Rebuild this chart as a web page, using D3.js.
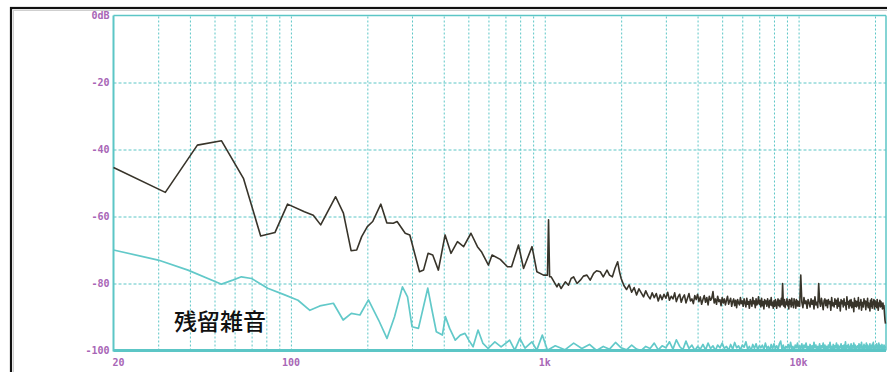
<!DOCTYPE html>
<html>
<head>
<meta charset="utf-8">
<script src="https://cdn.jsdelivr.net/npm/d3@7"></script>
<style>
  html, body { margin: 0; padding: 0; background: #ffffff; }
  svg { display: block; }
</style>
</head>
<body>
<svg id="chart" width="887" height="372"></svg>
<script>
// ---- Data -------------------------------------------------------------
// Output spectrum (dark trace), low-frequency section: frequency (Hz) and level (dB)
const outFreq = [20, 32, 42.8, 53.3, 65, 76, 86.5, 97, 113, 122.5, 131, 150, 161, 172.6, 181.6, 190,
  200, 210, 226, 238.6, 253, 262, 282, 294, 321, 333, 347, 362, 381, 405, 427, 453, 479, 512, 543,
  563, 600, 620, 668, 713, 740, 788, 825, 891, 931, 989, 1025, 1035, 1045, 1060, 1117, 1134, 1160,
  1205, 1240, 1270, 1299, 1340, 1381, 1420, 1466, 1510, 1558, 1600, 1655, 1700, 1759, 1800, 1847,
  1890, 1937, 1970];
const outDb = [-45.4, -52.8, -38.7, -37.4, -48.6, -65.8, -64.8, -56.3, -58.6, -59.6, -62.5, -54.1, -59,
  -70.2, -70, -66, -63, -61.5, -56.3, -61.9, -62, -61.5, -65, -65.5, -76.5, -76, -71, -71.5, -76, -65.5,
  -71, -67.5, -69, -65, -69, -70.5, -74.5, -71.5, -72.8, -75, -75, -68.5, -75.5, -69, -76.5, -77.5,
  -77.5, -61, -78, -78, -81, -80, -81.5, -79.5, -80.5, -78.5, -78, -80, -79, -77.8, -77.5, -79, -77,
  -76.2, -76.5, -78, -76, -77.5, -78, -75.5, -73.5, -76.5];

// Output spectrum, FFT bins 2 kHz – 9.95 kHz (50 Hz spacing)
const outMidStartHz = 2000;
const outMidStepHz = 50;
const outMidDb = [
  -78.5, -80.6, -81.8, -80.4, -82.6, -81.2, -83.4, -81.6, -82.8, -84.0,
  -82.2, -83.6, -84.6, -82.8, -84.2, -83.0, -85.2, -83.4, -84.8, -83.2,
  -84.4, -82.6, -85.0, -83.8, -84.6, -82.8, -85.4, -84.0, -83.2, -85.6,
  -84.2, -83.4, -85.8, -84.4, -83.0, -85.2, -84.6, -86.0, -83.6, -84.8,
  -83.2, -85.4, -84.0, -86.2, -84.8, -83.6, -85.6, -84.2, -86.4, -83.8,
  -85.0, -84.4, -82.4, -85.8, -84.6, -86.2, -83.8, -85.4, -84.8, -86.6,
  -84.2, -85.8, -84.6, -86.4, -85.0, -83.8, -86.2, -85.2, -84.4, -86.8,
  -85.4, -84.6, -86.6, -85.0, -87.2, -84.8, -85.8, -86.4, -84.2, -86.0,
  -85.2, -86.8, -84.6, -85.8, -87.0, -84.4, -86.2, -85.4, -87.4, -84.8,
  -85.6, -86.8, -84.2, -86.0, -85.2, -87.2, -84.6, -86.4, -85.8, -84.0,
  -86.2, -85.0, -87.0, -84.4, -86.6, -85.4, -87.6, -84.8, -86.0, -85.2,
  -86.8, -84.6, -85.8, -87.2, -85.0, -86.4, -84.2, -86.6, -85.6, -87.4,
  -85.2, -86.8, -84.8, -86.0, -87.4, -85.4, -84.6, -86.6, -85.0, -87.0,
  -85.8, -84.4, -86.4, -80.0, -85.2, -86.8, -84.8, -87.2, -85.6, -86.2,
  -84.6, -86.6, -85.4, -87.6, -84.8, -86.2, -85.0, -87.0, -84.4, -86.4,
  -85.8, -87.2, -84.6, -86.0, -85.4, -87.4, -84.8, -86.6, -85.2, -86.8];

// Output spectrum, FFT bins 10 kHz – 22 kHz (100 Hz spacing)
const outHighStartHz = 10000;
const outHighStepHz = 100;
const outHighDb = [
  -85.4, -86.8, -77.5, -85.6, -87.2, -84.2, -86.0, -85.2, -87.4, -84.8,
  -85.8, -87.0, -84.6, -86.2, -85.0, -87.6, -84.0, -86.4, -85.6, -87.2,
  -80.0, -85.4, -86.8, -84.4, -86.0, -87.8, -85.2, -84.6, -86.6, -85.0,
  -87.2, -84.8, -86.0, -85.4, -88.0, -84.2, -86.6, -85.8, -87.0, -84.6,
  -86.2, -85.0, -87.4, -84.4, -86.8, -85.6, -88.2, -84.8, -86.0, -85.2,
  -87.0, -84.6, -86.4, -85.8, -87.8, -84.0, -86.2, -85.4, -87.4, -85.0,
  -86.6, -84.8, -87.2, -85.6, -86.0, -88.4, -84.4, -86.8, -85.2, -87.0,
  -85.4, -86.6, -84.2, -87.6, -85.8, -86.4, -84.8, -88.0, -85.6, -86.2,
  -87.0, -84.6, -86.0, -85.2, -87.8, -85.4, -86.6, -84.4, -87.2, -85.8,
  -86.4, -88.2, -85.0, -86.8, -84.6, -87.4, -85.6, -86.2, -84.8, -87.6,
  -85.2, -86.8, -85.6, -87.2, -84.8, -86.4, -88.0, -85.8, -86.6, -85.0,
  -87.0, -85.4, -86.8, -86.0, -87.6, -85.8, -87.4, -86.6, -89.0, -91.0,
  -92.0];

// Residual noise (cyan trace), low-frequency section
const resFreq = [20, 30, 39.3, 53.3, 59, 63.8, 70, 81, 94.5, 106.6, 118.8, 130, 147, 160.6, 173, 187,
  202, 221.5, 239, 256, 275, 288, 300, 318, 346, 359.5, 374, 395, 406, 422, 444, 465, 485, 502, 522,
  546, 571, 598, 636, 673, 727, 762, 798, 836, 890, 930, 978, 1025];
const resDb = [-70, -73, -76, -80.2, -79, -78, -78.5, -81.4, -83.4, -85, -88, -86.7, -85.9, -90.9,
  -88.9, -89.4, -84.9, -90.9, -96.4, -89.9, -81, -84, -92.9, -93.4, -81.4, -87.9, -94.4, -95.4, -89.9,
  -93.4, -96.9, -95.4, -94.9, -96.9, -98.9, -93.9, -97.9, -99.4, -97.4, -98.9, -96.9, -99.9, -96.4,
  -99.3, -97.4, -99.9, -95.4, -99.9];

// Residual noise, FFT bins from 1.1 kHz upward (100 Hz spacing)
const resBinStartHz = 1100;
const resBinStepHz = 100;
const resBinDb = [
  -98.6, -99.8, -97.8, -99.4, -98.2, -100, -98.8, -99.6, -97.6, -99.2,
  -99.8, -98.4, -99.6, -100, -98.8, -99.4, -97.8, -99.8, -98.6, -99.2,
  -97.4, -99.6, -96.8, -98.8, -99.8, -97.2, -99.4, -98.4, -100, -98.8,
  -99.6, -98.2, -99.8, -97.8, -99.4, -98.6, -100, -98.4, -99.2, -97.8,
  -99.4, -98.8, -100, -98.2, -99.6, -97.6, -99.2, -98.6, -99.8, -98.4,
  -99.0, -97.4, -99.6, -98.8, -100, -98.2, -99.4, -98.0, -99.8, -98.6,
  -99.2, -98.4, -99.8, -97.8, -99.4, -98.8, -100, -98.2, -99.6, -98.0,
  -99.4, -98.6, -99.8, -98.0, -97.2, -99.6, -98.4, -100, -98.8, -99.2,
  -98.2, -99.6, -97.6, -99.4, -98.8, -100, -98.4, -99.2, -97.8, -99.8,
  -98.6, -99.4, -98.0, -99.8, -98.4, -99.2, -97.8, -99.6, -98.8, -100,
  -98.2, -99.4, -98.6, -99.8, -97.6, -99.2, -98.4, -100, -98.8, -99.4,
  -98.0, -99.6, -98.6, -99.2, -97.8, -99.8, -98.4, -99.4, -98.8, -100,
  -98.4, -99.2, -97.6, -99.6, -98.8, -99.4, -98.2, -100, -98.6, -99.2,
  -97.8, -99.6, -98.4, -99.8, -98.8, -99.2, -98.0, -99.6, -98.6, -100,
  -98.4, -99.4, -97.4, -99.8, -98.6, -99.2, -98.2, -99.6, -98.8, -99.4,
  -98.0, -99.8, -98.6, -99.2, -97.8, -99.6, -98.4, -100, -98.8, -99.2,
  -98.6, -99.4, -98.0, -99.8, -98.4, -99.2, -97.6, -99.6, -98.8, -100,
  -98.2, -99.6, -98.6, -99.2, -97.8, -99.8, -98.4, -99.4, -98.8, -99.6,
  -98.0, -99.4, -98.6, -99.8, -98.2, -99.2, -97.6, -99.6, -98.8, -100,
  -98.4, -99.2, -98.0, -99.6, -98.6, -99.4, -97.8, -99.8, -98.4, -99.2,
  -98.6, -99.6, -98.2, -99.4, -98.8, -100, -98.4, -99.6, -98.8, -99.4];

// Axis ticks and labels
const yTicks = [0, -20, -40, -60, -80, -100];
const yTickLabels = ["0dB", "-20", "-40", "-60", "-80", "-100"];
const xGridFreqs = [30, 40, 50, 60, 70, 80, 90, 100, 200, 300, 400, 500, 600, 700, 800, 900,
  1000, 2000, 3000, 4000, 5000, 6000, 7000, 8000, 9000, 10000, 20000];
const xTickFreqs = [20, 100, 1000, 10000];
const xTickLabels = ["20", "100", "1k", "10k"];
const noteText = "残留雑音";

// ---- Layout -----------------------------------------------------------
const svg = d3.select("#chart");
const plot = { left: 113.5, right: 886, top: 15.5, bottom: 350.5 };
const cyan = "#5cc6c6";
const tickColor = "#a866b6";

const x = d3.scaleLog().domain([20, 22100]).range([plot.left, plot.right]);
const y = d3.scaleLinear().domain([-100, 0]).range([plot.bottom, plot.top]);

// Outer window frame (runs off the right and bottom edges)
svg.append("rect")
  .attr("x", 11).attr("y", 8).attr("width", 900).attr("height", 400)
  .attr("fill", "none").attr("stroke", "#111").attr("stroke-width", 2.2);
svg.append("rect")
  .attr("x", 13.5).attr("y", 10.5).attr("width", 900).attr("height", 400)
  .attr("fill", "none").attr("stroke", "#cfcfcf").attr("stroke-width", 1);

// Vertical grid
svg.append("g")
  .attr("transform", `translate(0,${plot.bottom})`)
  .call(d3.axisBottom(x).tickValues(xGridFreqs).tickSize(-(plot.bottom - plot.top)).tickFormat(""))
  .call(g => g.select(".domain").remove())
  .call(g => g.selectAll("line")
    .attr("stroke", cyan).attr("stroke-width", 1).attr("stroke-dasharray", "2,2"));

// Horizontal grid
svg.append("g")
  .attr("transform", `translate(${plot.left},0)`)
  .call(d3.axisLeft(y).tickValues([-20, -40, -60, -80]).tickSize(-(plot.right - plot.left)).tickFormat(""))
  .call(g => g.select(".domain").remove())
  .call(g => g.selectAll("line")
    .attr("stroke", cyan).attr("stroke-width", 1).attr("stroke-dasharray", "3,2"));

// Plot border
svg.append("line").attr("x1", plot.left).attr("x2", plot.right).attr("y1", plot.top).attr("y2", plot.top)
  .attr("stroke", cyan).attr("stroke-width", 1.5);
svg.append("line").attr("x1", plot.right).attr("x2", plot.right).attr("y1", plot.top).attr("y2", plot.bottom)
  .attr("stroke", cyan).attr("stroke-width", 1.5);
svg.append("line").attr("x1", plot.left).attr("x2", plot.left).attr("y1", plot.top).attr("y2", plot.bottom + 1)
  .attr("stroke", cyan).attr("stroke-width", 2);

// ---- Traces -----------------------------------------------------------
const outSeries = outFreq.map((f, i) => [f, outDb[i]])
  .concat(outMidDb.map((v, i) => [outMidStartHz + i * outMidStepHz, v]))
  .concat(outHighDb.map((v, i) => [outHighStartHz + i * outHighStepHz, v]));
const resSeries = resFreq.map((f, i) => [f, resDb[i]])
  .concat(resBinDb.map((v, i) => [resBinStartHz + i * resBinStepHz, v]));

const line = d3.line().x(d => x(d[0])).y(d => y(d[1]));

svg.append("path").datum(resSeries)
  .attr("d", line).attr("fill", "none")
  .attr("stroke", "#62c9c9").attr("stroke-width", 1.7).attr("stroke-linejoin", "round");

svg.append("path").datum(outSeries)
  .attr("d", line).attr("fill", "none")
  .attr("stroke", "#38342a").attr("stroke-width", 1.6).attr("stroke-linejoin", "round");

// Bottom axis line drawn over the residual trace floor
svg.append("line").attr("x1", plot.left).attr("x2", plot.right).attr("y1", plot.bottom).attr("y2", plot.bottom)
  .attr("stroke", cyan).attr("stroke-width", 3);

// ---- Tick labels ------------------------------------------------------
const labelFont = "'DejaVu Sans Mono', monospace";
svg.append("g").selectAll("text").data(yTicks).join("text")
  .attr("x", plot.left - 4)
  .attr("y", d => y(d) + 3.5)
  .attr("text-anchor", "end")
  .attr("font-family", labelFont).attr("font-size", 10).attr("font-weight", "bold")
  .attr("fill", tickColor)
  .text((d, i) => yTickLabels[i]);

svg.append("g").selectAll("text").data(xTickFreqs).join("text")
  .attr("x", (d, i) => i === 0 ? x(d) - 1 : x(d))
  .attr("y", 366)
  .attr("text-anchor", (d, i) => i === 0 ? "start" : "middle")
  .attr("font-family", labelFont).attr("font-size", 10).attr("font-weight", "bold")
  .attr("fill", tickColor)
  .text((d, i) => xTickLabels[i]);

// Annotation
svg.append("text")
  .attr("x", 174).attr("y", 330)
  .attr("font-family", "'Noto Sans CJK JP', sans-serif")
  .attr("font-size", 23).attr("font-weight", 500).attr("fill", "#111")
  .text(noteText);
</script>
</body>
</html>
